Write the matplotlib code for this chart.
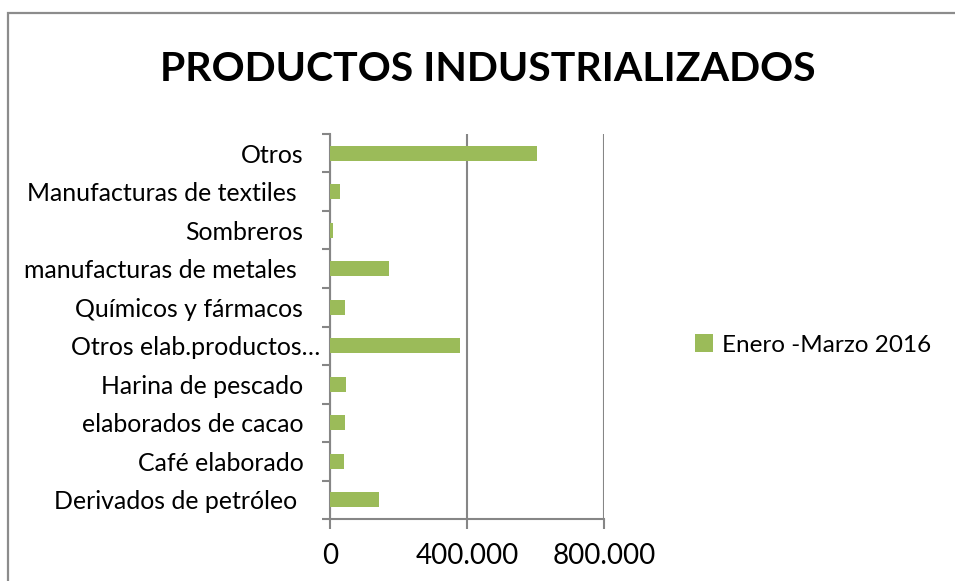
import matplotlib
matplotlib.use("Agg")
import matplotlib.pyplot as plt
from matplotlib.patches import Rectangle
import matplotlib.ticker as mticker
import matplotlib.transforms as mtransforms

categories = ["Derivados de petróleo ", "Café elaborado", "elaborados de cacao",
              "Harina de pescado", "Otros elab.productos…", "Químicos y fármacos",
              "manufacturas de metales ", "Sombreros", "Manufacturas de textiles ", "Otros"]
values = [145000, 42000, 46000, 47000, 380000, 46000, 174000, 9000, 31000, 605000]
series_name = "Enero -Marzo 2016"
title = "PRODUCTOS INDUSTRIALIZADOS"
xticks = [0, 400000, 800000]
xticklabels = ["0", "400.000", "800.000"]

FONT = "Lato"
GREEN = "#9BBB59"
GRAY = "#868686"

W, H = 955, 581
fig = plt.figure(figsize=(W / 100, H / 100), dpi=100)
fig.patch.set_facecolor("white")

# chart area border
fig.add_artist(Rectangle((7.5 / W, -0.1), 1.2, (H - 12.7) / H + 0.1, transform=fig.transFigure,
                         fill=False, edgecolor="#8C8C8C", linewidth=1.6))

left, right, top, bottom = 329.7, 604.3, 134, 519
ax = fig.add_axes([left / W, (H - bottom) / H, (right - left) / W, (bottom - top) / H])

y = list(range(len(categories)))
bars = ax.barh(y, values, height=0.4, color=GREEN, label=series_name, zorder=3)

ax.set_xlim(0, 800000)
ax.set_ylim(-0.5, len(categories) - 0.5)
ax.set_xticks(xticks)
ax.set_xticklabels(xticklabels, fontsize=20, fontfamily=FONT)
ax.xaxis.grid(True, color=GRAY, linewidth=1.5, zorder=0)

ax.yaxis.set_major_locator(mticker.FixedLocator([i - 0.5 for i in range(len(categories) + 1)]))
ax.yaxis.set_major_formatter(mticker.NullFormatter())
ax.yaxis.set_minor_locator(mticker.FixedLocator(y))
ax.set_yticklabels(categories, minor=True, fontsize=17.9, fontfamily=FONT)
ax.tick_params(axis="y", which="minor", length=0, pad=19)
ax.tick_params(axis="y", which="major", length=6, width=1.5, color=GRAY)
ax.tick_params(axis="x", length=7, width=1.5, color=GRAY, pad=10)

# the truncated label overflows towards the axis in the reference
for lbl in ax.get_yticklabels(minor=True):
    if lbl.get_text().endswith("…"):
        lbl.set_transform(lbl.get_transform() +
                          mtransforms.ScaledTranslation(17 / 100, 0, fig.dpi_scale_trans))

for s in ["top", "right"]:
    ax.spines[s].set_visible(False)
for s in ["left", "bottom"]:
    ax.spines[s].set_color(GRAY)
    ax.spines[s].set_linewidth(1.5)

fig.text(488 / W, 1 - 70 / H, title, ha="center", va="center", fontsize=29.5,
         fontweight="bold", fontfamily=FONT)

leg = fig.legend(handles=[bars], labels=[series_name], loc="center left",
                 bbox_to_anchor=(695 / W, 1 - 345 / H), frameon=False,
                 prop={"family": FONT, "size": 17.5}, handlelength=0.75, handleheight=0.75,
                 handletextpad=0.35, borderaxespad=0, borderpad=0)

fig.savefig("out.png", dpi=100)
